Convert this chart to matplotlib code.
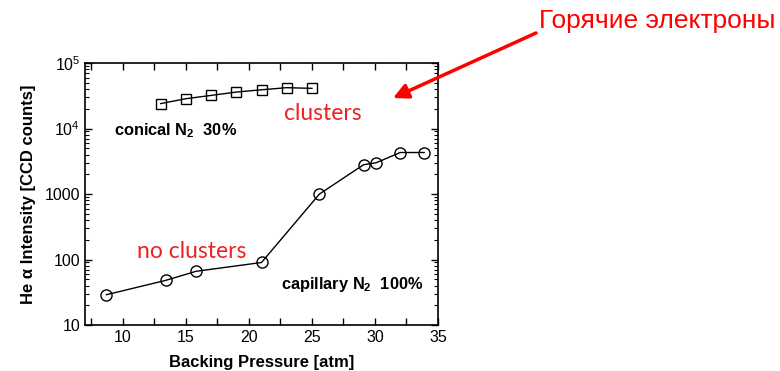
import matplotlib
matplotlib.use("Agg")
import matplotlib.pyplot as plt
from matplotlib.ticker import FixedLocator, LogLocator, NullFormatter, FixedFormatter

# Data
capillary_p = [8.7, 13.4, 15.8, 21.0, 25.6, 29.1, 30.1, 32.0, 33.9]
capillary_i = [29, 48, 66, 90, 1000, 2800, 3000, 4300, 4300]
conical_p = [13.0, 15.0, 17.0, 19.0, 21.0, 23.0, 25.0]
conical_i = [24000, 28500, 32000, 36000, 39000, 42000, 41000]

xticks = [10, 15, 20, 25, 30, 35]
xtick_labels = ["10", "15", "20", "25", "30", "35"]
yticks = [10, 100, 1000, 1e4, 1e5]
ytick_labels = ["10", "100", "1000", r"$10^4$", r"$10^5$"]

plt.rcParams['font.family'] = ['Liberation Sans', 'DejaVu Sans']
plt.rcParams['mathtext.fontset'] = 'custom'
plt.rcParams['mathtext.rm'] = 'Liberation Sans'
plt.rcParams['mathtext.bf'] = 'Liberation Sans:bold'

fig = plt.figure(figsize=(7.8, 3.71), dpi=100)
ax = fig.add_axes([85/780, 1-325/371, (438-85)/780, (325-63)/371])

ax.plot(capillary_p, capillary_i, '-', color='black', lw=1.0,
        marker='o', markersize=8, markerfacecolor='none', markeredgewidth=1.0)
ax.plot(conical_p, conical_i, '-', color='black', lw=1.0,
        marker='s', markersize=7.5, markerfacecolor='none', markeredgewidth=1.0)

ax.set_yscale('log')
ax.set_xlim(7, 35)
ax.set_ylim(10, 1e5)

ax.xaxis.set_major_locator(FixedLocator(xticks))
ax.xaxis.set_major_formatter(FixedFormatter(xtick_labels))
ax.xaxis.set_minor_locator(FixedLocator([7.5, 12.5, 17.5, 22.5, 27.5, 32.5]))
ax.yaxis.set_major_locator(FixedLocator(yticks))
ax.yaxis.set_major_formatter(FixedFormatter(ytick_labels))
ax.yaxis.set_minor_locator(LogLocator(base=10, subs=range(2, 10)))
ax.yaxis.set_minor_formatter(NullFormatter())

ax.tick_params(which='both', direction='in', top=True, right=True, labelsize=11.5)
ax.tick_params(which='major', length=5, width=1)
ax.tick_params(axis='x', which='minor', length=5, width=1)
ax.tick_params(axis='y', which='minor', length=3, width=0.8)
for s in ax.spines.values():
    s.set_linewidth(1.2)

ax.set_xlabel("Backing Pressure [atm]", fontweight='bold', fontsize=12, labelpad=7)
ax.set_ylabel("He α Intensity [CCD counts]", fontweight='bold', fontsize=12, labelpad=6)

# Series labels
fig.text(114/780, 1-131/371, r"conical N$_{\mathbf{2}}$  30%", fontsize=11.8,
         fontweight='bold', ha='left', va='center')
fig.text(281/780, 1-285/371, r"capillary N$_{\mathbf{2}}$  100%", fontsize=11.8,
         fontweight='bold', ha='left', va='center')

# Annotations
fig.text(323/780, 1-114/371, "clusters", color='#ee2222', fontsize=16.5,
         family=['Lato', 'DejaVu Sans'], ha='center', va='center')
fig.text(192/780, 1-251/371, "no clusters", color='#ee2222', fontsize=16.5,
         family=['Lato', 'DejaVu Sans'], ha='center', va='center')
fig.text(657/780, 1-21/371, "Горячие электроны", color='#ff0000', fontsize=19,
         ha='center', va='center')
ax.annotate("", xy=(393/780, 1-98/371), xycoords='figure fraction',
            xytext=(536/780, 1-33/371), textcoords='figure fraction',
            arrowprops=dict(arrowstyle='-|>,head_length=0.9,head_width=0.45',
                            color='#ff0000', lw=2.5, shrinkA=0, shrinkB=0))

fig.savefig("out.png", dpi=100)
